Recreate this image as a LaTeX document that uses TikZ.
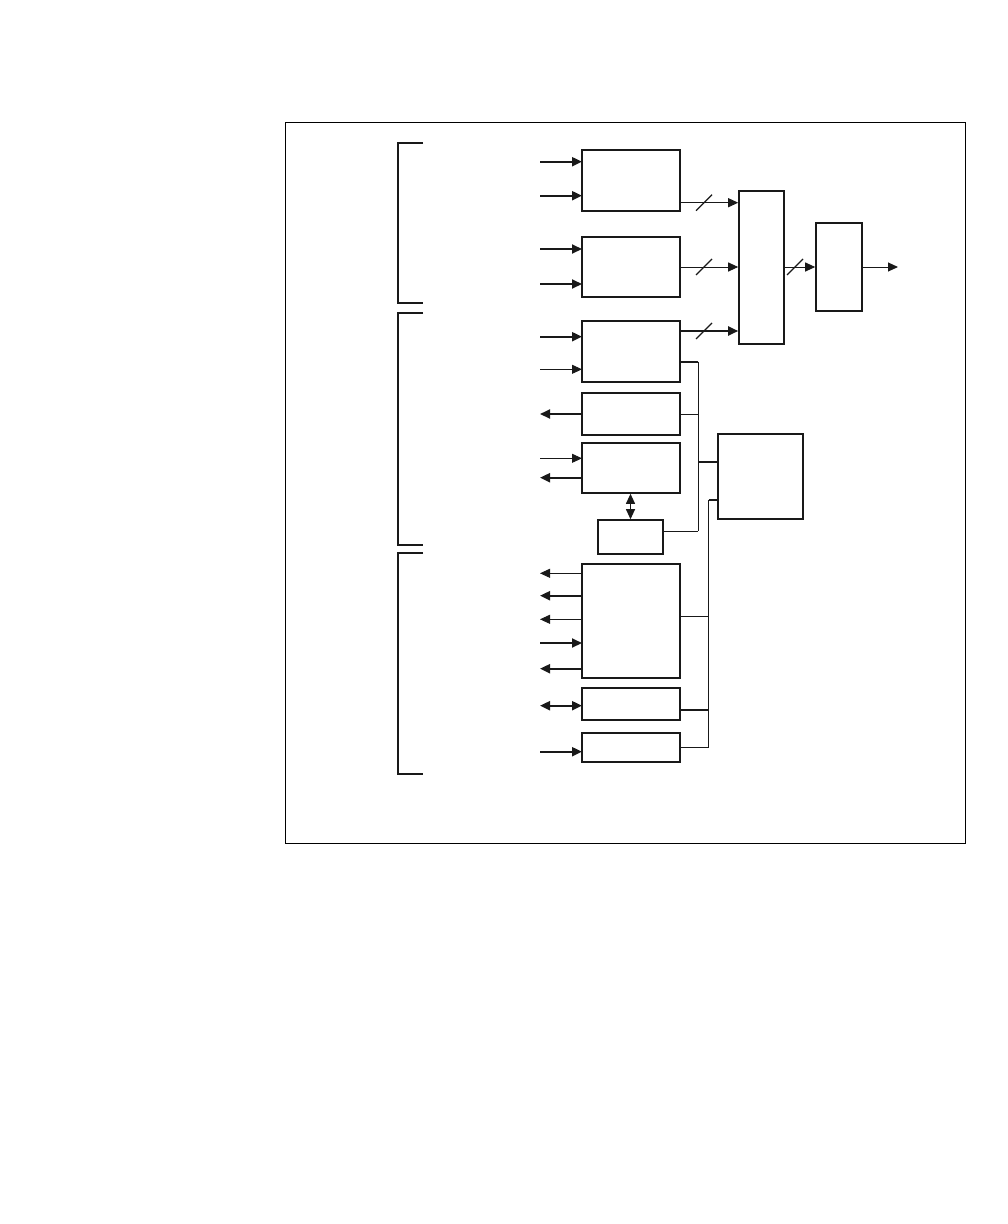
\documentclass[tikz,border=0pt]{standalone}
\usetikzlibrary{arrows.meta}
\begin{document}
\begin{tikzpicture}[x=1pt,y=-1pt,
  box/.style={draw=black!90,line width=1.6pt,inner sep=0pt,minimum width=98pt},
  thk/.style={line width=2pt,draw=black!90},
  thn/.style={line width=1pt,draw=black!90},
  tip/.style={-{Triangle[length=10pt,width=9pt]}},
  tipb/.style={{Triangle[length=10pt,width=9pt]}-{Triangle[length=10pt,width=9pt]}},
  brk/.style={line width=2pt,draw=black!90},
  slash/.style={line width=1.3pt,draw=black!90}]
\useasboundingbox (0,0) rectangle (1008,1224);
% outer frame
\draw[line width=1pt] (285,122) rectangle (965,843);
% brackets
\draw[brk] (423,143) -- (398,143) -- (398,302.5) -- (423,302.5);
\draw[brk] (423,313) -- (398,313) -- (398,545) -- (423,545);
\draw[brk] (423,553) -- (398,553) -- (398,774) -- (423,774);
% boxes
\node[box,minimum height=61pt] (b1) at (631,180.5) {};
\node[box,minimum height=60pt] (b2) at (631,267) {};
\node[box,minimum height=61pt] (b3) at (631,351.5) {};
\node[box,minimum height=42pt] (b4) at (631,414) {};
\node[box,minimum height=50pt] (b5) at (631,468) {};
\node[box,minimum width=65pt,minimum height=34pt] (b6) at (630.5,537) {};
\node[box,minimum width=85pt,minimum height=85pt] (b7) at (760.5,476.5) {};
\node[box,minimum height=114pt] (b8) at (631,621) {};
\node[box,minimum height=32pt] (b9) at (631,704) {};
\node[box,minimum height=29pt] (b10) at (631,747.5) {};
\node[box,minimum width=45pt,minimum height=153pt] (b11) at (761.5,267.5) {};
\node[box,minimum width=46pt,minimum height=88pt] (b12) at (839,267) {};
% input/output arrows on the left
\foreach \y/\s/\d [count=\k] in {161.7/thk/i, 195.7/thk/i, 249/thk/i, 284/thk/i, 336.7/thk/i, 369.3/thn/i,
                      414/thk/o, 458.3/thn/i, 477.7/thk/o,
                      573.3/thn/o, 595.7/thk/o, 619.3/thn/o, 643/thk/i, 668.7/thk/o,
                      705.7/thk/b, 751.7/thk/i}{
  \coordinate (L\k) at (540,\y);
  \coordinate (R\k) at (582,\y);
  \if i\d \draw[\s,tip] (L\k) -- (R\k); \fi
  \if o\d \draw[\s,tip] (R\k) -- (L\k); \fi
  \if b\d \draw[\s,tipb] (L\k) -- (R\k); \fi
}
% to mux
\draw[thn,tip] (b1.east |- 0,202.7) -- (b11.west |- 0,202.7);
\draw[thn,tip] (b2.east) -- (b11.west |- b2.east);
\draw[thk,tip] (b3.east |- 0,331) -- (b11.west |- 0,331);
\draw[thn,tip] (b11.east |- b12.west) -- (b12.west);
\coordinate (out) at (898,267);
\draw[thn,tip] (b12.east) -- (out);
% slashes
\foreach \x/\y in {704/202.7, 704/267, 704/331, 795/267}
  \draw[slash] (\x-8,\y+8) -- (\x+8,\y-8);
% double arrow b5-b6
\draw[thn,tipb] (b5.south -| b6.north) -- (b6.north);
% bus 1
\coordinate (bus1t) at (698.3,361.7);
\coordinate (bus1b) at (698.3,531);
\draw[thk] (b3.east |- bus1t) -- (bus1t);
\draw[thn] (bus1t) -- (bus1b);
\draw[thn] (b4.east) -- (b4.east -| bus1t);
\draw[thn] (b6.east |- bus1b) -- (bus1b);
\draw[thk] (698.3,462) -- (b7.west |- 0,462);
% bus 2
\coordinate (bus2t) at (708.5,500);
\coordinate (bus2b) at (708.5,747.3);
\draw[thk] (bus2t) -- (b7.west |- bus2t);
\draw[thn] (bus2t) -- (bus2b);
\draw[thn] (b8.east |- 0,616.3) -- (bus2t |- 0,616.3);
\draw[thk] (b9.east |- 0,709.7) -- (bus2t |- 0,709.7);
\draw[thn] (b10.east |- bus2b) -- (bus2b);
\end{tikzpicture}
\end{document}
